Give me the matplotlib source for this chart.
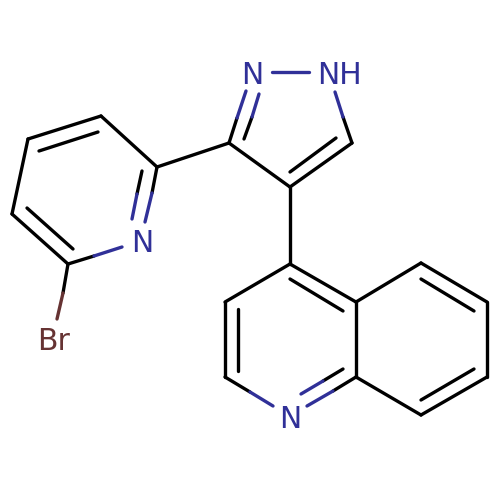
import matplotlib
matplotlib.use("Agg")
import matplotlib.pyplot as plt

# Bond segments in picture units: (x0, y0, x1, y1)
black_bonds = [
    (229,143,237,118), (244,139,252,117), (352,143,343,117),
    (229,143,290,187), (290,187,352,143), (290,172,336,138),
    (290,187,290,264), (229,143,157,167),
    (157,167,152,193), (142,171,137,194), (157,167,101,116),
    (101,116,28,139), (98,132,39,151), (28,139,12,214),
    (12,214,68,264), (27,208,73,249), (68,264,94,256), (68,264,63,293),
    (290,264,225,302), (225,302,225,377), (238,309,238,371),
    (225,377,250,392), (290,264,356,302), (290,279,343,311),
    (356,302,356,377), (356,377,333,391), (343,369,323,381),
    (356,302,421,263), (421,263,487,302), (421,279,474,311),
    (487,302,487,377), (487,377,421,415), (474,369,421,400),
    (421,415,356,377),
]
blue_bonds = [
    (237,118,246,91), (252,117,259,94), (272,72,309,72), (343,117,335,92),
    (152,193,145,222), (137,194,132,219), (94,256,122,247),
    (250,392,273,406), (333,391,307,406), (323,381,301,394),
]
brown_bonds = [(63,293,57,319)]
atom_labels = ["N", "NH", "N", "N", "Br"]
atom_x = [252, 339, 142, 290, 54]
atom_y = [72, 72, 241, 416, 339]
atom_colors = ["#303098", "#303098", "#303098", "#303098", "#663333"]

fig = plt.figure(figsize=(5, 5), dpi=100)
ax = fig.add_axes([0, 0, 1, 1])
ax.set_xlim(0, 500)
ax.set_ylim(500, 0)
ax.axis("off")

for group, col in [(black_bonds, "black"), (blue_bonds, "#303098"), (brown_bonds, "#663333")]:
    for x0, y0, x1, y1 in group:
        ax.plot([x0, x1], [y0, y1], color=col, lw=2.4, solid_capstyle="round")

for s, x, y, c in zip(atom_labels, atom_x, atom_y, atom_colors):
    ax.text(x, y, s, color=c, fontsize=21.5, family="DejaVu Sans",
            ha="center", va="center_baseline")

fig.savefig("out.png", dpi=100)
